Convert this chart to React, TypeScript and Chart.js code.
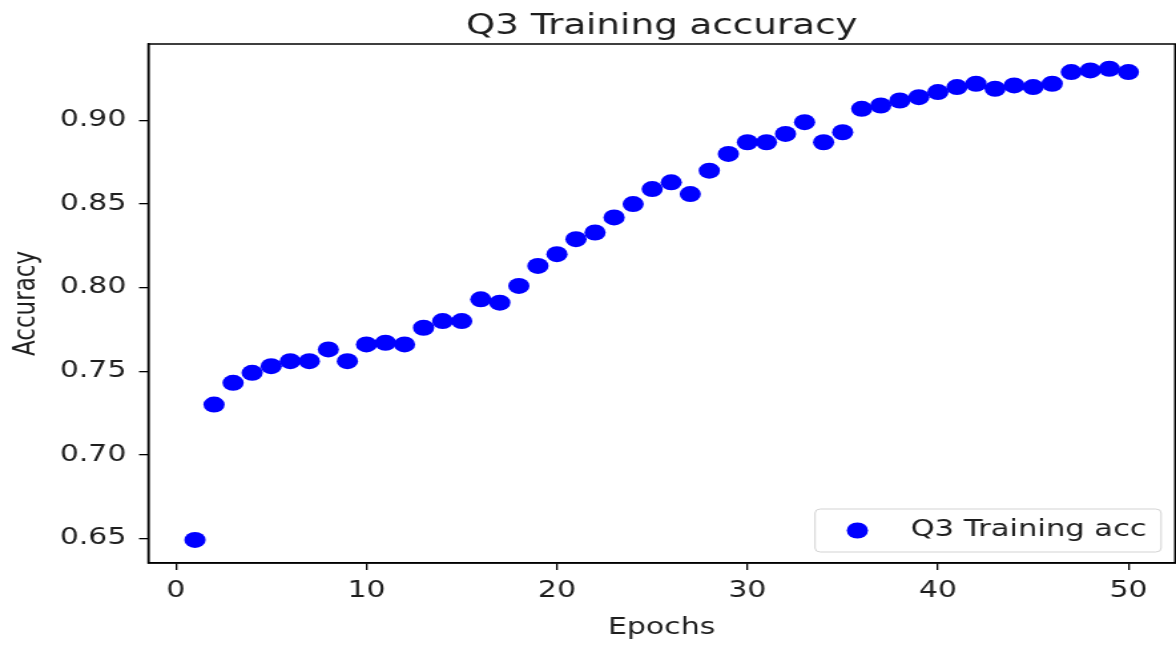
import React, { useEffect, useRef } from "react";
import { Chart, registerables } from "chart.js";

Chart.register(...registerables);

// ---- data ----
const epochs = [
  1, 2, 3, 4, 5, 6, 7, 8, 9, 10,
  11, 12, 13, 14, 15, 16, 17, 18, 19, 20,
  21, 22, 23, 24, 25, 26, 27, 28, 29, 30,
  31, 32, 33, 34, 35, 36, 37, 38, 39, 40,
  41, 42, 43, 44, 45, 46, 47, 48, 49, 50,
];
const accuracy = [
  0.649, 0.730, 0.743, 0.749, 0.753, 0.756, 0.756, 0.763, 0.756, 0.766,
  0.767, 0.766, 0.776, 0.780, 0.780, 0.793, 0.791, 0.801, 0.813, 0.820,
  0.829, 0.833, 0.842, 0.850, 0.859, 0.863, 0.856, 0.870, 0.880, 0.887,
  0.887, 0.892, 0.899, 0.887, 0.893, 0.907, 0.909, 0.912, 0.914, 0.917,
  0.920, 0.922, 0.919, 0.921, 0.920, 0.922, 0.929, 0.930, 0.931, 0.929,
];
const xTickValues = [0, 10, 20, 30, 40, 50];
const yTickValues = [0.65, 0.7, 0.75, 0.8, 0.85, 0.9];
const chartTitle = "Q3 Training accuracy";
const seriesLabel = "Q3 Training acc";
const xAxisTitle = "Epochs";
const yAxisTitle = "Accuracy";

// ---- look ----
const CSS_W = 1176;
const CSS_H = 645;
const INNER_W = 884; // drawn narrower, then stretched horizontally like the reference
const FAMILY = '"DejaVu Sans", "Liberation Sans", sans-serif';
const TEXT = "#1e1e1e";
const BLUE = "#0000ff";
const FONT_SIZE = 22.5;
const LEGEND_FONT_SIZE = 23;

const framePlugin = {
  id: "frameTitleLegend",
  afterDraw(chart: any) {
    const { ctx, chartArea: a } = chart;
    ctx.save();
    // axes frame
    ctx.strokeStyle = "#000";
    ctx.lineWidth = 1.5;
    ctx.strokeRect(a.left, a.top, a.right - a.left, a.bottom - a.top);

    // title
    ctx.fillStyle = TEXT;
    ctx.font = `28px ${FAMILY}`;
    ctx.textAlign = "center";
    ctx.textBaseline = "alphabetic";
    ctx.fillText(chartTitle, (a.left + a.right) / 2, 34);

    // legend (lower right, inside axes)
    const label = chart.data.datasets[0].label;
    ctx.font = `${LEGEND_FONT_SIZE}px ${FAMILY}`;
    const tw = ctx.measureText(label).width;
    const boxH = 43;
    const boxW = 31.8 + 40 + tw + 10.8;
    const boxRight = a.right - 10.5;
    const boxBottom = a.bottom - 11;
    const bx = boxRight - boxW;
    const by = boxBottom - boxH;
    ctx.beginPath();
    ctx.roundRect(bx, by, boxW, boxH, 4);
    ctx.fillStyle = "rgba(255,255,255,0.8)";
    ctx.fill();
    ctx.strokeStyle = "#d3d3d3";
    ctx.lineWidth = 1;
    ctx.stroke();
    const cy = by + boxH / 2;
    ctx.beginPath();
    ctx.arc(bx + 31.8, cy, 8, 0, Math.PI * 2);
    ctx.fillStyle = BLUE;
    ctx.fill();
    ctx.fillStyle = TEXT;
    ctx.textAlign = "left";
    ctx.textBaseline = "middle";
    ctx.fillText(label, bx + 71.8, cy);
    ctx.restore();
  },
};

export default function App() {
  const ref = useRef<HTMLCanvasElement | null>(null);

  useEffect(() => {
    document.body.style.margin = "0";
    const canvas = ref.current;
    if (!canvas) return;
    const tickFont = { family: FAMILY, size: FONT_SIZE };
    const chart = new Chart(canvas, {
      type: "scatter",
      data: {
        datasets: [
          {
            label: seriesLabel,
            data: epochs.map((e, i) => ({ x: e, y: accuracy[i] })),
            backgroundColor: BLUE,
            borderColor: BLUE,
            pointRadius: 8,
            pointHoverRadius: 8,
            pointBorderWidth: 0,
            showLine: false,
          },
        ],
      },
      options: {
        animation: false,
        responsive: false,
        devicePixelRatio: 1,
        events: [],
        layout: {
          autoPadding: false,
          padding: { top: 44, right: 0.7, bottom: 0, left: 0 },
        },
        plugins: {
          legend: { display: false },
          title: { display: false },
          tooltip: { enabled: false },
        },
        scales: {
          x: {
            type: "linear",
            min: -1.45,
            max: 52.45,
            afterBuildTicks: (s: any) => {
              s.ticks = xTickValues.map((v) => ({ value: v }));
            },
            afterFit: (s: any) => {
              s.height = 82;
              s.paddingLeft = 0;
              s.paddingRight = 0;
            },
            ticks: {
              font: tickFont,
              color: TEXT,
              padding: 8,
              maxRotation: 0,
              autoSkip: false,
              callback: (v: any) => String(v),
            },
            grid: {
              drawOnChartArea: false,
              drawTicks: true,
              tickLength: 7,
              color: "#000",
              lineWidth: 1.3,
            },
            border: { display: true, color: "#000", width: 1.5 },
            title: {
              display: true,
              text: xAxisTitle,
              color: TEXT,
              font: tickFont,
              padding: { top: 0, bottom: 3 },
            },
          },
          y: {
            type: "linear",
            min: 0.6352,
            max: 0.9458,
            afterBuildTicks: (s: any) => {
              s.ticks = yTickValues.map((v) => ({ value: v }));
            },
            afterFit: (s: any) => {
              s.width = 111.5;
              s.paddingTop = 0;
              s.paddingBottom = 0;
            },
            ticks: {
              font: tickFont,
              color: TEXT,
              padding: 9.5,
              autoSkip: false,
              callback: (v: any) => Number(v).toFixed(2),
            },
            grid: {
              drawOnChartArea: false,
              drawTicks: true,
              tickLength: 7,
              color: "#000",
              lineWidth: 1.3,
            },
            border: { display: true, color: "#000", width: 1.5 },
            title: {
              display: true,
              text: yAxisTitle,
              color: TEXT,
              font: { family: FAMILY, size: 23 },
              padding: { top: 6, bottom: 0 },
            },
          },
        },
      },
      plugins: [framePlugin],
    } as any);
    return () => chart.destroy();
  }, []);

  return (
    <canvas
      ref={ref}
      width={INNER_W}
      height={CSS_H}
      style={{ width: `${CSS_W}px`, height: `${CSS_H}px`, display: "block" }}
    />
  );
}
